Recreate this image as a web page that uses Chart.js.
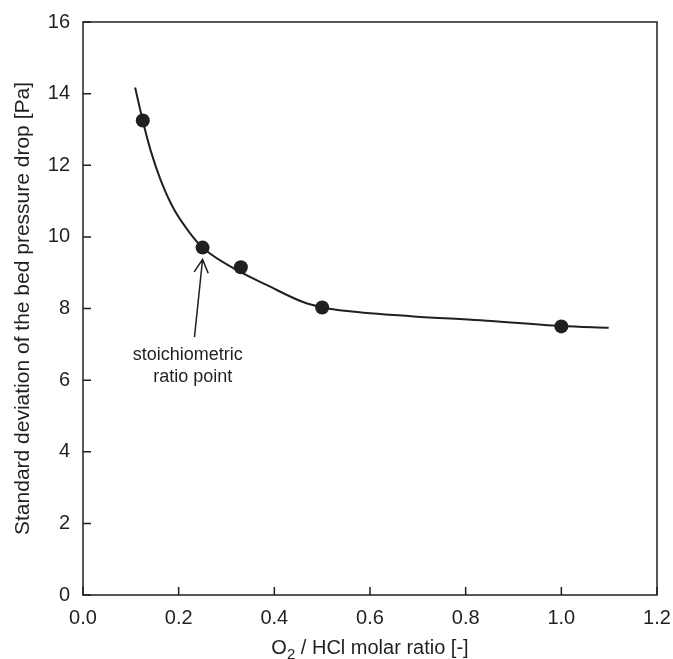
<!DOCTYPE html>
<html lang="en">
<head>
    <meta charset="UTF-8">
    <title>Standard deviation of the bed pressure drop</title>
    <style>
        html, body{
            margin: 0;
            padding: 0;
            background: #fff;
        }
        .chartstyle{
            width: 673px;
            height: 659px;
        }
    </style>
</head>
<body>
    <div class="chartstyle">
        <canvas id="myChart" width="673" height="659"></canvas>
    </div>

    <script src="https://cdn.jsdelivr.net/npm/chart.js"></script>
    <script>

// measured points
var ratioX = [0.125, 0.25, 0.33, 0.5, 1.0];
var stdY = [13.25, 9.7, 9.15, 8.03, 7.5];

// fitted curve
var fitX = [0.109, 0.125, 0.141, 0.162, 0.189, 0.224, 0.251, 0.329, 0.385, 0.46, 0.501, 0.552, 0.691, 0.831, 1.0, 1.099];
var fitY = [14.17, 13.24, 12.43, 11.6, 10.8, 10.1, 9.69, 9.02, 8.65, 8.18, 8.03, 7.93, 7.78, 7.67, 7.51, 7.46];

var xTicks = [0, 0.2, 0.4, 0.6, 0.8, 1.0, 1.2];
var yTicks = [0, 2, 4, 6, 8, 10, 12, 14, 16];

var xTitle = ['O', '2', ' / HCl molar ratio [-]'];//主字 下標 其餘
var yTitle = 'Standard deviation of the bed pressure drop [Pa]';

var noteLines = ['stoichiometric', 'ratio point'];
var noteX = [0.219, 0.2296];
var noteY = [6.69, 6.09];
var arrowTip = [0.25, 9.37];
var arrowTail = [0.233, 7.2];

var ink = '#231f20';
var fontName = '"Liberation Sans", Arial, sans-serif';

var pointsData = ratioX.map(function(v, i){ return {x: v, y: stdY[i]}; });
var curveData = fitX.map(function(v, i){ return {x: v, y: fitY[i]}; });

var framePlugin = {//外框 + 朝內的刻度 + 箭頭 + 文字
    id: 'frame',
    afterDraw: function(chart) {
        var ctx = chart.ctx;
        var a = chart.chartArea;
        var xs = chart.scales.x;
        var ys = chart.scales.y;

        ctx.save();
        ctx.strokeStyle = ink;
        ctx.lineWidth = 1.5;
        ctx.strokeRect(a.left, a.top, a.right - a.left, a.bottom - a.top);

        ctx.beginPath();
        xTicks.forEach(function(t){
            var px = xs.getPixelForValue(t);
            ctx.moveTo(px, a.bottom);
            ctx.lineTo(px, a.bottom - 8);
        });
        yTicks.forEach(function(t){
            var py = ys.getPixelForValue(t);
            ctx.moveTo(a.left, py);
            ctx.lineTo(a.left + 8, py);
        });
        ctx.stroke();

        // arrow
        var tx = xs.getPixelForValue(arrowTip[0]), ty = ys.getPixelForValue(arrowTip[1]);
        var bx = xs.getPixelForValue(arrowTail[0]), by = ys.getPixelForValue(arrowTail[1]);
        var ang = Math.atan2(by - ty, bx - tx);
        var wing = 15, spread = 28 * Math.PI / 180;
        ctx.lineWidth = 1.5;
        ctx.beginPath();
        ctx.moveTo(bx, by);
        ctx.lineTo(tx, ty);
        ctx.moveTo(tx + wing * Math.cos(ang - spread), ty + wing * Math.sin(ang - spread));
        ctx.lineTo(tx, ty);
        ctx.lineTo(tx + wing * Math.cos(ang + spread), ty + wing * Math.sin(ang + spread));
        ctx.stroke();

        ctx.fillStyle = ink;
        ctx.font = '18px ' + fontName;
        ctx.textAlign = 'center';
        ctx.textBaseline = 'middle';
        noteLines.forEach(function(s, i){
            ctx.fillText(s, xs.getPixelForValue(noteX[i]), ys.getPixelForValue(noteY[i]));
        });

        // x title with subscript
        ctx.font = '20px ' + fontName;
        var subFont = '15px ' + fontName;
        var w0 = ctx.measureText(xTitle[0]).width;
        var w2 = ctx.measureText(xTitle[2]).width;
        ctx.font = subFont;
        var w1 = ctx.measureText(xTitle[1]).width;
        var total = w0 + w1 + w2;
        var cx = (a.left + a.right) / 2;
        var sx = cx - total / 2;
        var base = 654;
        ctx.textAlign = 'left';
        ctx.textBaseline = 'alphabetic';
        ctx.font = '20px ' + fontName;
        ctx.fillText(xTitle[0], sx, base);
        ctx.font = subFont;
        ctx.fillText(xTitle[1], sx + w0, base + 5);
        ctx.font = '20px ' + fontName;
        ctx.fillText(xTitle[2], sx + w0 + w1, base);
        ctx.restore();
    }
};

var ctx1 = document.getElementById('myChart').getContext('2d');
var myChart = new Chart(ctx1, {
    type: 'scatter',
    data: {
        datasets: [{
            label: 'measured',
            data: pointsData,
            showLine: false,
            pointRadius: 7,
            pointHoverRadius: 7,
            pointBackgroundColor: ink,
            pointBorderColor: ink,
            pointBorderWidth: 0,
            order: 0
        }, {
            label: 'fit',
            data: curveData,
            showLine: true,
            pointRadius: 0,
            borderColor: ink,
            borderWidth: 2,
            cubicInterpolationMode: 'monotone',
            fill: false,
            order: 1
        }]
    },
    options: {
        responsive: false,
        animation: false,
        devicePixelRatio: 1,
        layout: {
            padding: {top: 22, right: 16, left: 0, bottom: 0}
        },
        plugins: {
            legend: {display: false},
            tooltip: {enabled: false}
        },
        scales: {
            x: {
                type: 'linear',
                min: 0,
                max: 1.2,
                afterBuildTicks: function(scale){
                    scale.ticks = xTicks.map(function(v){ return {value: v}; });
                },
                afterFit: function(scale){
                    scale.height = 64;
                    scale.paddingLeft = 0;
                    scale.paddingRight = 0;
                },
                grid: {
                    drawOnChartArea: false,
                    drawTicks: false
                },
                border: {display: false},
                ticks: {
                    padding: 11,
                    color: ink,
                    font: {family: fontName, size: 20},
                    callback: function(v){ return Number(v).toFixed(1); }
                }
            },
            y: {
                type: 'linear',
                min: 0,
                max: 16,
                afterBuildTicks: function(scale){
                    scale.ticks = yTicks.map(function(v){ return {value: v}; });
                },
                afterFit: function(scale){
                    scale.width = 83;
                    scale.paddingTop = 0;
                    scale.paddingBottom = 0;
                },
                grid: {
                    drawOnChartArea: false,
                    drawTicks: false
                },
                border: {display: false},
                ticks: {
                    padding: 13,
                    color: ink,
                    font: {family: fontName, size: 20},
                    callback: function(v){ return String(v); }
                },
                title: {
                    display: true,
                    text: yTitle,
                    color: ink,
                    font: {family: fontName, size: 21},
                    padding: {top: 11, bottom: 0}
                }
            }
        }
    },
    plugins: [framePlugin]
});
    </script>
</body>
</html>
